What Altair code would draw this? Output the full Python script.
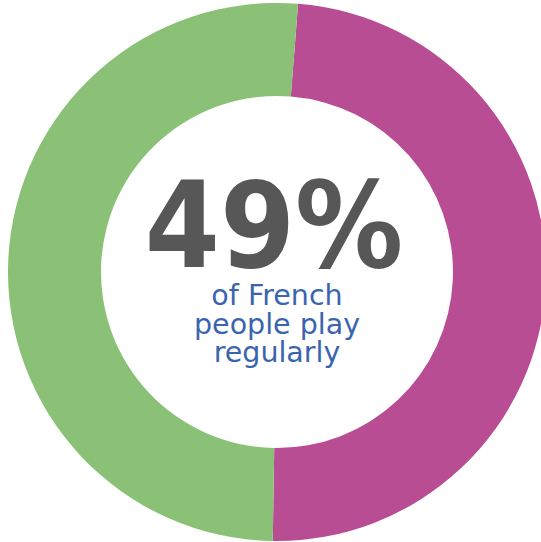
import math
import altair as alt
import pandas as pd

# data
categories = ["play regularly", "other"]
values = [49, 51]
order_idx = [0, 1]
colors = ["#b94d93", "#8ac176"]
headline = ["49%"]
sublines = ["of French", "people play", "regularly"]

arc_df = pd.DataFrame({"category": categories, "value": values, "idx": order_idx})
head_df = pd.DataFrame({"headline": headline})

start = math.radians(4.5)

donut = alt.Chart(arc_df).mark_arc(outerRadius=269, innerRadius=176).encode(
    theta=alt.Theta("value:Q", stack=True,
                    scale=alt.Scale(domain=[0, 100], range=[start, start + 2 * math.pi])),
    order=alt.Order("idx:Q"),
    color=alt.Color("category:N", scale=alt.Scale(domain=categories, range=colors), legend=None),
    x=alt.value(277),
    y=alt.value(272),
)

big = alt.Chart(head_df).mark_text(
    font="DejaVu Sans Condensed", fontWeight="bold", fontSize=120,
    color="#575757", align="center", baseline="alphabetic"
).encode(text="headline:N", x=alt.value(274), y=alt.value(267))

layers = [donut, big]
baselines = [305, 334, 362]
for line, yb in zip(sublines, baselines):
    layers.append(
        alt.Chart(head_df).mark_text(
            font="DejaVu Sans", fontSize=28.5, color="#3a65ae", align="center",
            baseline="alphabetic", text=line
        ).encode(x=alt.value(277), y=alt.value(yb))
    )

chart = alt.layer(*layers).properties(
    width=541, height=542, autosize=alt.AutoSizeParams(type="none"), padding=0
).configure_view(stroke=None)

chart.save("out.html", embed_options={"renderer": "svg", "actions": False})
